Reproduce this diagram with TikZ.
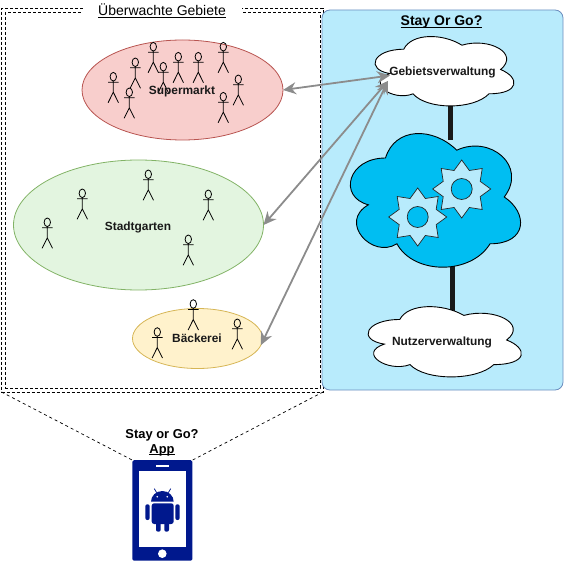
\documentclass[tikz,border=0pt]{standalone}
\usepackage{fontspec}
\setmainfont{Liberation Sans}
\usetikzlibrary{shapes.geometric,arrows.meta}
\definecolor{skybg}{HTML}{B8EBFC}
\definecolor{skyline}{HTML}{6C8EBF}
\definecolor{cloudblue}{HTML}{00BEF2}
\definecolor{phoneblue}{HTML}{00188D}
\definecolor{arrowgrey}{HTML}{8C8C8C}
\newcommand{\ulbar}[1]{\leavevmode\setbox0\hbox{#1}\rlap{\rule[-1.6pt]{\wd0}{0.9pt}}\box0}
\newcommand{\cloudoutline}{(.25,.25) .. controls (.05,.25) and (0,.5) .. (.16,.55) .. controls (0,.66) and (.18,.9) .. (.31,.8) .. controls (.4,1) and (.7,1) .. (.8,.8) .. controls (1,.8) and (1,.6) .. (.875,.5) .. controls (1,.3) and (.8,.1) .. (.625,.2) .. controls (.5,.05) and (.3,.05) .. (.25,.25) -- cycle}
\tikzset{
  zone/.style={draw=black,dashed,dash pattern=on 3pt off 2pt,line width=.8pt,inner sep=0pt,outer sep=0pt},
  area/.style={ellipse,inner sep=0pt,outer sep=0pt,line width=.8pt},
  label/.style={font=\fontsize{11.9}{14}\selectfont\bfseries,inner sep=0pt,text=black!90,anchor=base},
  biglabel/.style={font=\fontsize{12.9}{15}\selectfont\bfseries,inner sep=0pt,anchor=base},
  link/.style={draw=arrowgrey,line width=1.8pt,{Stealth[length=13pt,width=12pt]}-{Stealth[length=13pt,width=12pt]}},
  stem/.style={draw=black!90,line width=4.2pt},
  cloudpath/.style={draw=black,line width=.9pt},
  gear/.style={star,star points=8,star point ratio=1.45,minimum size=58pt,inner sep=0pt,fill=skybg,draw=black!85,line width=.7pt},
  hole/.style={circle,minimum size=21pt,inner sep=0pt,fill=cloudblue,draw=black!85,line width=.7pt},
  appedge/.style={black,dashed,dash pattern=on 3pt off 3pt,line width=.7pt},
  actor/.pic={
    \draw[black,line width=.8pt] (0,0) ellipse[x radius=3.2,y radius=4.3]
      (0,4.3) -- (0,15.5) (-5.2,5.5) -- (5.2,5.5) (-5.2,26) -- (0,15.5) -- (5.2,26);
  },
}
\begin{document}
\begin{tikzpicture}[x=1pt,y=-1pt]
\useasboundingbox (0,0) rectangle (564,561);
% monitored zone
\node[zone,minimum width=321.5pt,minimum height=383.7pt] (zoneA) at (162.25,200.15) {};
\node[zone,minimum width=315pt,minimum height=375.7pt] (zoneB) at (162.5,200.15) {};
\node[fill=white,minimum width=159pt,minimum height=18pt,inner sep=0pt] (titlegap) at (162.5,10) {};
\node[font=\fontsize{14}{16}\selectfont,inner sep=0pt,anchor=base] (title) at (162,16) {\ulbar{Überwachte Gebiete}};
% system panel
\node[draw=skyline,fill=skybg,rounded corners=8pt,minimum width=241pt,minimum height=380pt,inner sep=0pt,outer sep=0pt,line width=.8pt] (panel) at (442.5,200) {};
\node[font=\fontsize{14}{16}\selectfont\bfseries,inner sep=0pt,anchor=base] (paneltitle) at (441.5,26) {\ulbar{Stay Or Go?}};
% areas
\node[area,draw={rgb,255:red,184;green,84;blue,80},fill={rgb,255:red,248;green,206;blue,204},minimum width=201pt,minimum height=100pt] (super) at (182.5,90) {};
\node[area,draw={rgb,255:red,130;green,179;blue,102},fill={rgb,255:red,227;green,245;blue,224},minimum width=250pt,minimum height=130pt] (stadt) at (138.5,225) {};
\node[area,draw={rgb,255:red,214;green,182;blue,86},fill={rgb,255:red,255;green,242;blue,204},minimum width=130pt,minimum height=60pt] (baeck) at (197.5,338.5) {};
% people
\foreach \px/\py in {113.3/76.7,135.3/62.3,153.3/46.7,163.3/66.7,178.3/56.7,198.3/56.7,223.3/46.7,238.3/79.3,223.3/96.7,129.3/92.3,
  148.3/174.3,82.3/193.3,208.3/194.3,47.3/222.3,188.3/239.3,
  193.3/304,237.3/323.3,157.3/332}
  \pic at (\px,\py) {actor};
\node[label] (superlabel) at (182,95) {Supermarkt};
\node[label] (stadtlabel) at (138,230) {Stadtgarten};
\node[label] (baecklabel) at (197,342.7) {Bäckerei};
% stems between clouds
\coordinate (gebietS) at (450.5,100);
\coordinate (wolkeN) at (450.5,140);
\coordinate (wolkeS) at (452.5,255);
\coordinate (nutzerN) at (452.5,316);
\draw[stem] (gebietS) -- (wolkeN);
\draw[stem] (wolkeS) -- (nutzerN);
% clouds
\begin{scope}[shift={(365,29)},x=155pt,y=-81pt]
  \draw[cloudpath,fill=white] \cloudoutline;
\end{scope}
\begin{scope}[shift={(338,119)},x=190pt,y=-156pt]
  \draw[cloudpath,fill=cloudblue] \cloudoutline;
\end{scope}
\begin{scope}[shift={(357,299)},x=171pt,y=-82pt]
  \draw[cloudpath,fill=white] \cloudoutline;
\end{scope}
\node[gear] (gearA) at (417.7,217) {};
\node[hole] (holeA) at (417.7,217) {};
\node[gear] (gearB) at (461.7,189) {};
\node[hole] (holeB) at (461.7,189) {};
\node[label] (gebiet) at (442.5,75.3) {Gebietsverwaltung};
\node[label] (nutzer) at (442,345.3) {Nutzerverwaltung};
% links
\coordinate (port) at (390,75.5);
\coordinate (portB) at (388,81);
\draw[link] (port) -- (super.east);
\draw[link] (portB) -- (stadt.east);
\draw[link] (portB) -- (baeck.-6);
% phone
\node[fill=phoneblue,rounded corners=1.5pt,minimum width=60pt,minimum height=100.5pt,inner sep=0pt,outer sep=0pt] (phone) at (162.4,510.4) {};
\draw[appedge] (zoneA.south west) -- (phone.north west);
\draw[appedge] (zoneA.south east) -- (phone.north east);
\fill[white] (139,471) rectangle (186,547.3);
\fill[white] (156,464.7) rectangle (169,467.3);
\fill[white] (162.3,553.7) circle[radius=4.3];
% android
\begin{scope}[phoneblue]
  \fill (151,501.7) arc[start angle=180,end angle=360,x radius=11.35,y radius=10.7] -- cycle;
  \draw[line width=.8pt] (156.7,492.7) -- (154.3,488.7) (168.3,492.7) -- (170.7,488.7);
  \fill[rounded corners=2.5pt] (151.7,503.3) -- (173.7,503.3) -- (173.7,524) -- (151.7,524) -- cycle;
  \fill[rounded corners=2pt] (145.3,504.3) rectangle (149.7,520);
  \fill[rounded corners=2pt] (175.3,504.3) rectangle (179.7,520);
  \fill[rounded corners=2pt] (156,520) rectangle (160.7,531.7);
  \fill[rounded corners=2pt] (164.3,520) rectangle (169,531.7);
\end{scope}
\fill[white] (157.3,496.7) circle[radius=.9] (167.3,496.7) circle[radius=.9];
\node[biglabel] (applabel) at (162,438.3) {Stay or Go?};
\node[biglabel] (appname) at (162,453.3) {\ulbar{App}};
\end{tikzpicture}
\end{document}
